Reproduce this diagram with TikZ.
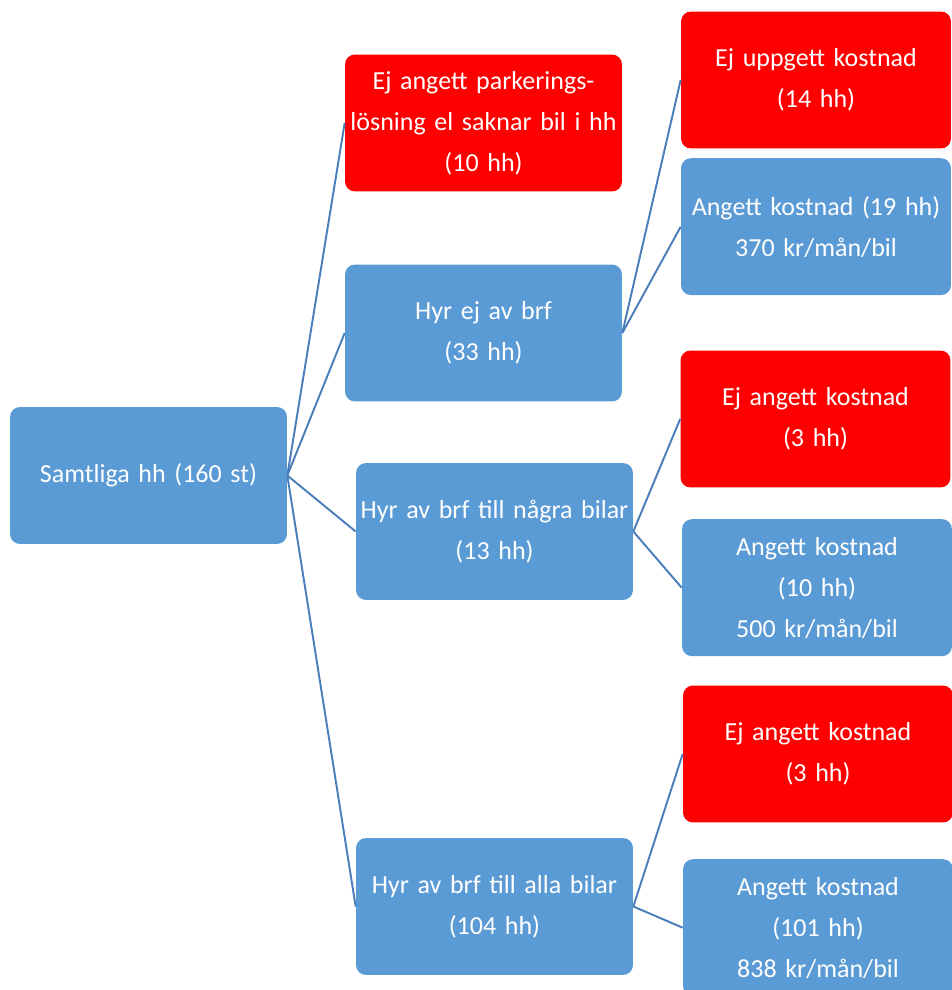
\documentclass[tikz,border=0pt]{standalone}
\usepackage{xcolor}
\usepackage{fontspec}
\setmainfont{Carlito}
\usepackage{tikz}
\usetikzlibrary{positioning}
\definecolor{hhblue}{HTML}{5B9BD5}
\definecolor{hhred}{HTML}{FF0000}
\definecolor{hhline}{HTML}{4A7EBB}

\begin{document}
\begin{tikzpicture}[
    x=0.02cm, y=-0.02cm,
    box/.style={rectangle, rounded corners=0.2cm, fill=hhblue, text=white, inner sep=0pt, minimum height=2.74cm, align=center, font=\fontsize{14.8pt}{23.3pt}\selectfont},
    midbox/.style={box, minimum width=5.54cm, text width=5.45cm},
    leafbox/.style={box, minimum width=5.4cm, text width=5.35cm},
    redbox/.style={fill=hhred},
    link/.style={hhline, line width=1.1pt}
]
\useasboundingbox (0,0) rectangle (951,990);
\node[midbox] (root) at (148.5,475.5) {Samtliga hh (160 st)};
\node[midbox, redbox] (noinfo) at (483.5,123) {Ej angett parkerings-\\lösning el saknar bil i hh\\(10 hh)};
\node[midbox] (norent) at (483.5,333) {Hyr ej av brf\\(33 hh)};
\node[midbox] (somecars) at (494.5,531.5) {Hyr av brf till några bilar\\(13 hh)};
\node[midbox] (allcars) at (494.5,906.5) {Hyr av brf till alla bilar\\(104 hh)};
\node[leafbox, redbox] (norentx) at (816,80) {Ej uppgett kostnad\\(14 hh)};
\node[leafbox, below=0.18cm of norentx] (norentc) {Angett kostnad (19 hh)\\370 kr/mån/bil};
\node[leafbox, redbox] (somex) at (815.5,419) {Ej angett kostnad\\(3 hh)};
\node[leafbox, below=0.62cm of somex, xshift=0.03cm] (somec) {Angett kostnad\\(10 hh)\\500 kr/mån/bil};
\node[leafbox, redbox] (allx) at (818,754) {Ej angett kostnad\\(3 hh)};
\node[leafbox, below=0.72cm of allx] (allc) {Angett kostnad\\(101 hh)\\838 kr/mån/bil};
\draw[link] (root.east)--(noinfo.west); \draw[link] (root.east)--(norent.west);
\draw[link] (root.east)--(somecars.west); \draw[link] (root.east)--(allcars.west);
\draw[link] (norent.east)--(norentx.west); \draw[link] (norent.east)--(norentc.west);
\draw[link] (somecars.east)--(somex.west); \draw[link] (somecars.east)--(somec.west);
\draw[link] (allcars.east)--(allx.west); \draw[link] (allcars.east)--(allc.west);
\end{tikzpicture}
\end{document}
